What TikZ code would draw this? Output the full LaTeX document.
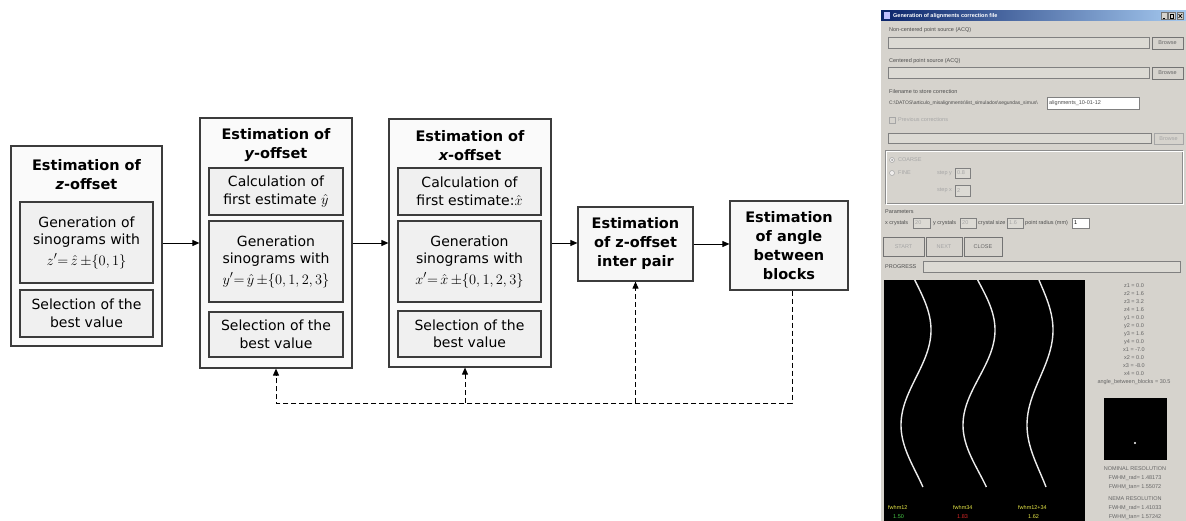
\documentclass[tikz,border=0pt]{standalone}
\usepackage{fontspec}
\setmainfont{DejaVu Sans}[BoldFont={DejaVu Sans Bold},ItalicFont={DejaVu Sans Oblique},BoldItalicFont={DejaVu Sans Bold Oblique}]
\newfontfamily\guifont{Liberation Sans}
\usetikzlibrary{arrows.meta,calc}
\definecolor{guibg}{RGB}{214,211,205}
\definecolor{titleA}{RGB}{10,36,106}
\definecolor{titleB}{RGB}{166,202,240}
\definecolor{boxline}{RGB}{60,60,60}
\definecolor{gyel}{RGB}{230,230,70}
\definecolor{ggrn}{RGB}{70,200,70}
\definecolor{gred}{RGB}{220,40,40}
\newcommand{\fml}[1]{{\fontsize{15}{18}\selectfont$#1$}}
\begin{document}
\begin{tikzpicture}[x=1pt,y=-1pt,
  outer/.style={draw=boxline, line width=1.2pt, fill=black!2, inner sep=0pt},
  inner/.style={draw=boxline, line width=1.2pt, fill=black!6, align=center, inner sep=1pt,
    font=\fontsize{14}{17.5}\selectfont},
  head/.style={align=center, inner sep=0pt, font=\fontsize{14.5}{19}\selectfont\bfseries},
  single/.style={draw=boxline, line width=1.2pt, fill=black!3, align=center, inner sep=2pt,
    font=\fontsize{14.5}{19}\selectfont\bfseries},
  arr/.style={-{Triangle[length=7pt,width=6pt]}, line width=0.9pt, black},
  fb/.style={arr, dash pattern=on 5pt off 3pt},
  g/.style={font=\guifont\fontsize{5.5}{6}\selectfont, text=black!70, inner sep=0pt, anchor=west},
  gd/.style={g, text=black!35},
  gc/.style={g, anchor=center, text=black!60},
  fld/.style={draw=black!50, fill=guibg!85!white, line width=0.5pt},
  btn/.style={draw=black!55, fill=guibg, line width=0.5pt},
  curve/.style={white!85!gray, line width=1.4pt}
]
\useasboundingbox (0,0) rectangle (1186,521);

% ---------------- flow diagram ----------------
% box 1: z-offset
\node[outer, minimum width=151pt, minimum height=200pt] (bz) at (86.5,246) {};
\node[head] (hz) at (86.5,175) {Estimation of\\{\itshape z}-offset};
\node[inner, minimum width=133pt, minimum height=81pt] (bz1) at (86.5,242.5)
  {Generation of\\sinograms with\\[3pt]\fml{z'{=}\,\hat{z}\,{\pm}\{0,1\}}};
\node[inner, minimum width=133pt, minimum height=47pt] (bz2) at (86.5,313.5)
  {Selection of the\\best value};

% box 2: y-offset
\node[outer, minimum width=152pt, minimum height=250pt] (by) at (276,243) {};
\node[head] (hy) at (276,145) {Estimation of\\{\itshape y}-offset};
\node[inner, minimum width=134pt, minimum height=47pt] (by1) at (276,191.5)
  {Calculation of\\first estimate $\hat{y}$};
\node[inner, minimum width=134pt, minimum height=81pt] (by2) at (276,261.5)
  {Generation\\sinograms with\\[3pt]\fml{y'{=}\,\hat{y}\,{\pm}\{0,1,2,3\}}};
\node[inner, minimum width=134pt, minimum height=45pt] (by3) at (276,334.5)
  {Selection of the\\best value};

% box 3: x-offset
\node[outer, minimum width=162pt, minimum height=248pt] (bx) at (470,243) {};
\node[head] (hx) at (470,146) {Estimation of\\{\itshape x}-offset};
\node[inner, minimum width=143pt, minimum height=47pt] (bx1) at (469.5,191.5)
  {Calculation of\\first estimate:$\hat{x}$};
\node[inner, minimum width=143pt, minimum height=81pt] (bx2) at (469.5,261.5)
  {Generation\\sinograms with\\[3pt]\fml{x'{=}\,\hat{x}\,{\pm}\{0,1,2,3\}}};
\node[inner, minimum width=143pt, minimum height=46pt] (bx3) at (469.5,334)
  {Selection of the\\best value};

% box 4 and 5
\node[single, minimum width=115pt, minimum height=74pt] (b4) at (635.5,244)
  {Estimation\\of z-offset\\inter pair};
\node[single, minimum width=118pt, minimum height=89pt] (b5) at (789,245.5)
  {Estimation\\of angle\\between\\blocks};

% arrows
\draw[arr] (bz.east |- 0,243) -- (by.west |- 0,243);
\draw[arr] (by.east) -- (by.east -| bx.west);
\draw[arr] (bx.east) -- (bx.east -| b4.west);
\draw[arr] (b4.east) -- (b4.east -| b5.west);

% feedback
\coordinate (bot) at (0,403);
\coordinate (b5out) at ([xshift=3pt]b5.south);
\coordinate (bxin) at ([xshift=-5pt]bx.south);
\draw[fb] (b5out) |- (bot -| by.south) -- (by.south);
\draw[fb] (bot -| bxin) -- (bxin);
\draw[fb] (bot -| b4.south) -- (b4.south);

% ---------------- GUI screenshot ----------------
\fill[guibg] (881,11) rectangle (1186,521);
\shade[left color=titleA, right color=titleB] (881,11) rectangle (1186,21);
\fill[white!75!blue] (883.5,12.5) rectangle (890,19.5);
\node[g, text=white, font=\guifont\bfseries\fontsize{5.5}{6}\selectfont] (ttl) at (893,16) {Generation of alignments correction file};
\draw[btn] (1161,12.5) rectangle (1167.5,19.5);
\draw[btn] (1168.5,12.5) rectangle (1175,19.5);
\draw[btn] (1177,12.5) rectangle (1183.5,19.5);
\draw[black, line width=0.7pt] (1162.5,18) -- (1165,18);
\draw[black, line width=0.5pt] (1170,14) rectangle (1173.5,18);
\draw[black, line width=0.7pt] (1178.5,14) -- (1182,18) (1182,14) -- (1178.5,18);

\node[g] (l1) at (889,30) {Non-centered point source (ACQ)};
\draw[fld] (888,37) rectangle (1149,48);
\draw[btn] (1152,37) rectangle (1183,49);
\node[gc] (br1) at (1167.5,43) {Browse};
\node[g] (l2) at (889,61) {Centered point source (ACQ)};
\draw[fld] (888,67) rectangle (1149,78);
\draw[btn] (1152,67) rectangle (1183,79);
\node[gc] (br2) at (1167.5,73) {Browse};
\node[g] (l3) at (889,92) {Filename to store correction};
\node[g, font=\guifont\fontsize{5}{6}\selectfont] (l4) at (889,103) {C:\textbackslash DATOS\textbackslash articulo\_misalignments\textbackslash list\_simulados\textbackslash segundas\_simus\textbackslash};
\draw[fld, fill=white] (1047,97) rectangle (1139,109);
\node[g] (l5) at (1049,103) {alignments\_10-01-12};
\draw[black!35, fill=guibg, line width=0.5pt] (889,117) rectangle (895,123);
\node[gd] (l6) at (898,120) {Previous corrections};
\draw[fld] (888,133) rectangle (1151,143);
\draw[btn, draw=black!35] (1154,133) rectangle (1183,144);
\node[gc, text=black!35] (br3) at (1168.5,138.5) {Browse};

\draw[black!45, line width=0.5pt] (885,150) rectangle (1182,203);
\draw[white, line width=0.5pt] (886,151) rectangle (1183,204);
\draw[black!35, fill=white!60!guibg, line width=0.5pt] (892,160) circle (2.5pt);
\fill[black!40] (892,160) circle (1pt);
\node[gd] (r1) at (898,160) {COARSE};
\draw[black!35, fill=white!60!guibg, line width=0.5pt] (892,173) circle (2.5pt);
\node[gd] (r2) at (898,173) {FINE};
\node[gd] (sy) at (937,173) {step y};
\draw[fld] (955,168) rectangle (970,178);
\node[gd] (syv) at (957,173) {0.8};
\node[gd] (sx) at (937,190.5) {step x};
\draw[fld] (955,185) rectangle (970,196);
\node[gd] (sxv) at (957,190.5) {2};

\node[g] (par) at (885,212) {Parameters};
\node[g] (xc) at (885,223) {x crystals};
\draw[fld] (913,218) rectangle (930,228);
\node[gd] (xcv) at (915,223) {20};
\node[g] (yc) at (933,223) {y crystals};
\draw[fld] (960,218) rectangle (976,228);
\node[gd] (ycv) at (962,223) {20};
\node[g] (cs) at (978,223) {crystal size};
\draw[fld] (1007,218) rectangle (1023,228);
\node[gd] (csv) at (1009,223) {1.6};
\node[g] (pr) at (1025,223) {point radius (mm)};
\draw[fld, fill=white] (1072,218) rectangle (1089,228);
\node[g, text=black] (prv) at (1074,223) {1};

\draw[btn] (883,237) rectangle (924,256);
\node[gc, text=black!35] (bs) at (903.5,246.5) {START};
\draw[btn] (926,237) rectangle (962,256);
\node[gc, text=black!35] (bn) at (944,246.5) {NEXT};
\draw[btn] (964,237) rectangle (1002,256);
\node[gc] (bc) at (983,246.5) {CLOSE};
\node[g] (pg) at (885,266.5) {PROGRESS};
\draw[fld] (923,261) rectangle (1180,272);

% image panel
\fill[black] (884,280) rectangle (1085,521);
\draw[curve] plot[domain=280:487, samples=80, variable=\t] ({916+15*cos(1.8947*(\t-330))}, \t);
\draw[curve] plot[domain=280:487, samples=80, variable=\t] ({979+16*cos(1.8947*(\t-330))}, \t);
\draw[curve] plot[domain=280:487, samples=80, variable=\t] ({1040+13*cos(1.8947*(\t-330))}, \t);
\node[g, text=gyel] (f1) at (888,508) {fwhm12};
\node[g, text=ggrn] (f1v) at (893,517) {1.50};
\node[g, text=gyel] (f2) at (953,508) {fwhm34};
\node[g, text=gred] (f2v) at (957,517) {1.83};
\node[g, text=gyel] (f3) at (1018,508) {fwhm12+34};
\node[g, text=gyel] (f3v) at (1028,517) {1.62};

% right column
\foreach \txt [count=\i] in {z1 = 0.0, z2 = 1.6, z3 = 3.2, z4 = 1.6, y1 = 0.0, y2 = 0.0, y3 = 1.6, y4 = 0.0, x1 = -7.0, x2 = 0.0, x3 = -8.0, x4 = 0.0}
  \node[gc] (v\i) at (1134,278+8*\i) {\txt};
\node[gc] (ang) at (1134,382) {angle\_between\_blocks = 30.5};
\fill[black] (1104,398) rectangle (1167,460);
\fill[white] (1135,443) circle (1.2pt);
\node[gc] (n1) at (1135,469) {NOMINAL RESOLUTION};
\node[gc] (n2) at (1135,478) {FWHM\_rad= 1.48173};
\node[gc] (n3) at (1135,487) {FWHM\_tan= 1.55072};
\node[gc] (m1) at (1135,499) {NEMA RESOLUTION};
\node[gc] (m2) at (1135,508) {FWHM\_rad= 1.41033};
\node[gc] (m3) at (1135,517) {FWHM\_tan= 1.57242};
\end{tikzpicture}
\end{document}
